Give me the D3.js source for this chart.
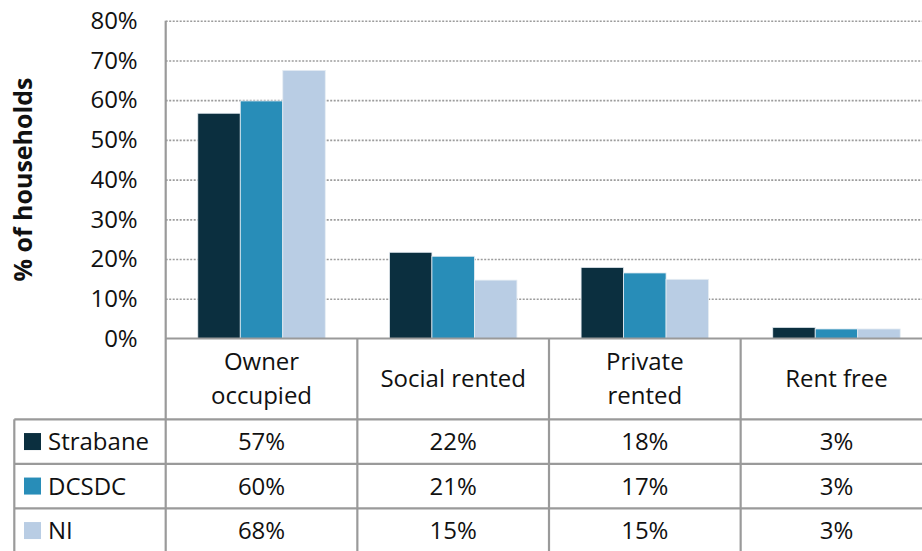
<!DOCTYPE html>
<html>
<head>
<meta charset="utf-8">
<script src="https://cdn.jsdelivr.net/npm/d3@7"></script>
<style>
  body { margin: 0; background: #fff; }
  text { font-family: "Open Sans", "Noto Sans", sans-serif; fill: #111; }
</style>
</head>
<body>
<svg id="chart" width="922" height="551"></svg>
<script>
// categories and series
var categories = ["Owner occupied", "Social rented", "Private rented", "Rent free"];
var headerLines = [["Owner", "occupied"], ["Social rented"], ["Private", "rented"], ["Rent free"]];
var seriesNames = ["Strabane", "DCSDC", "NI"];
var seriesColors = ["#0b2f3f", "#288db8", "#b9cde4"];
// bar heights
var strabane = [0.567, 0.217, 0.179, 0.028];
var dcsdc = [0.598, 0.207, 0.165, 0.024];
var ni = [0.675, 0.147, 0.149, 0.024];
// labels shown in the table
var strabaneLabels = ["57%", "22%", "18%", "3%"];
var dcsdcLabels = ["60%", "21%", "17%", "3%"];
var niLabels = ["68%", "15%", "15%", "3%"];
var yTicks = [0, 0.1, 0.2, 0.3, 0.4, 0.5, 0.6, 0.7, 0.8];

var seriesValues = [strabane, dcsdc, ni];
var seriesLabels = [strabaneLabels, dcsdcLabels, niLabels];

var svg = d3.select("#chart");
var plotLeft = 165.7, plotRight = 932.3, plotTop = 20.7, base = 338.5;
var tableLeft = 14.3;
var headerBottom = 419.3;
var rowH = 44.5;
var lineColor = "#9a9a9a";
var fs = 24;

var y = d3.scaleLinear().domain([0, 0.8]).range([base, plotTop]);
var x0 = d3.scaleBand().domain(categories).range([plotLeft, plotRight]);
var x1 = d3.scaleBand().domain(seriesNames).range([0, x0.bandwidth()]).paddingOuter(0.755);

// gridlines
svg.append("g")
  .attr("transform", "translate(" + plotLeft + ",0)")
  .call(d3.axisLeft(y).tickValues(yTicks.slice(1)).tickSize(-(922 - plotLeft)).tickFormat(""))
  .call(function(g) { g.select(".domain").remove(); })
  .selectAll("line")
  .attr("stroke", "#9c9c9c")
  .attr("stroke-width", 1.6)
  .attr("stroke-dasharray", "2,1.5");

// y tick labels
svg.append("g")
  .attr("transform", "translate(" + plotLeft + ",0)")
  .call(d3.axisLeft(y).tickValues(yTicks).tickSize(0).tickPadding(28).tickFormat(d3.format(".0%")))
  .call(function(g) { g.select(".domain").remove(); })
  .selectAll("text")
  .attr("font-size", fs)
  .attr("font-family", "'Open Sans', sans-serif")
  .attr("fill", "#111");

// axis title
svg.append("text")
  .attr("transform", "translate(32," + ((plotTop + base) / 2) + ") rotate(-90)")
  .attr("text-anchor", "middle")
  .attr("font-size", 25)
  .attr("font-weight", "bold")
  .text("% of households");

// bars
var groups = svg.append("g").selectAll("g")
  .data(categories)
  .enter().append("g")
  .attr("transform", function(d) { return "translate(" + x0(d) + ",0)"; });

groups.selectAll("rect")
  .data(function(d, ci) {
    return seriesNames.map(function(s, si) { return { s: s, si: si, v: seriesValues[si][ci] }; });
  })
  .enter().append("rect")
  .attr("x", function(d) { return x1(d.s); })
  .attr("y", function(d) { return y(d.v); })
  .attr("width", x1.bandwidth())
  .attr("height", function(d) { return base - y(d.v); })
  .attr("fill", function(d) { return seriesColors[d.si]; })
  .attr("stroke", "#e6edf3")
  .attr("stroke-width", 0.8);

// table lines
var lines = svg.append("g").attr("stroke", lineColor).attr("stroke-width", 2.2);
lines.append("line").attr("x1", plotLeft).attr("x2", 922).attr("y1", base).attr("y2", base);
lines.append("line").attr("x1", plotLeft).attr("x2", plotLeft).attr("y1", plotTop).attr("y2", 551);
categories.forEach(function(c, i) {
  if (i > 0) {
    lines.append("line").attr("x1", x0(c)).attr("x2", x0(c)).attr("y1", base).attr("y2", 551);
  }
});
seriesNames.forEach(function(s, i) {
  var yy = headerBottom + i * rowH;
  lines.append("line").attr("x1", tableLeft).attr("x2", 922).attr("y1", yy).attr("y2", yy);
});
lines.append("line").attr("x1", tableLeft).attr("x2", tableLeft).attr("y1", headerBottom).attr("y2", 551);

// header texts
categories.forEach(function(c, i) {
  var cx = x0(c) + x0.bandwidth() / 2;
  var ls = headerLines[i];
  var mid = (base + headerBottom) / 2;
  ls.forEach(function(t, j) {
    svg.append("text")
      .attr("x", cx)
      .attr("y", mid + 8 + (j - (ls.length - 1) / 2) * 34)
      .attr("text-anchor", "middle")
      .attr("font-size", fs)
      .text(t);
  });
});

// table rows with legend keys
seriesNames.forEach(function(s, si) {
  var rowTop = headerBottom + si * rowH;
  var cy = rowTop + rowH / 2;
  svg.append("rect")
    .attr("x", 24).attr("y", cy - 8.5)
    .attr("width", 17).attr("height", 17)
    .attr("fill", seriesColors[si]);
  svg.append("text")
    .attr("x", 48).attr("y", cy + 8.5)
    .attr("font-size", fs)
    .text(s);
  categories.forEach(function(c, ci) {
    svg.append("text")
      .attr("x", x0(c) + x0.bandwidth() / 2)
      .attr("y", cy + 8.5)
      .attr("text-anchor", "middle")
      .attr("font-size", fs)
      .text(seriesLabels[si][ci]);
  });
});
</script>
</body>
</html>
